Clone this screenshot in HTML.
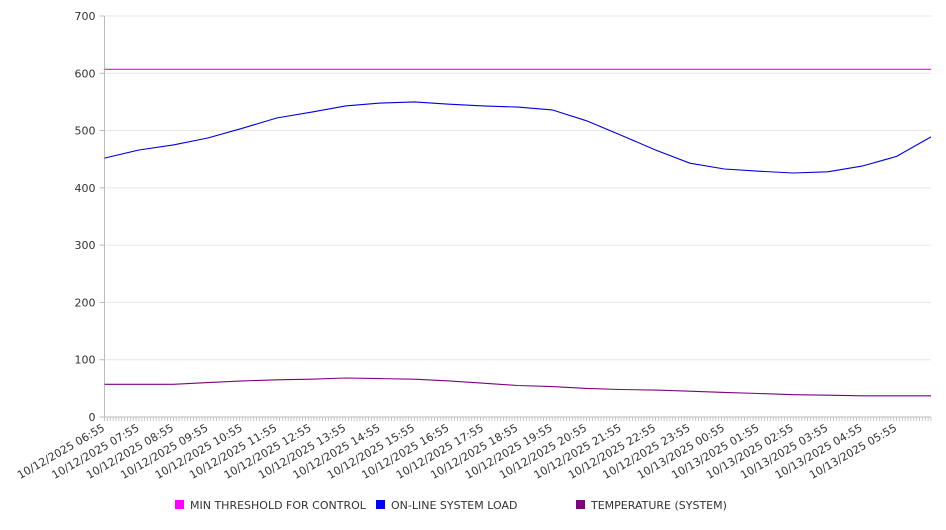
<!DOCTYPE html>
<html><head><meta charset="utf-8"><style>
body{margin:0;background:#fff;font-family:"DejaVu Sans","Liberation Sans",sans-serif}
svg text{font-family:"DejaVu Sans","Liberation Sans",sans-serif;font-size:11px;fill:#333}
</style></head><body>
<svg id="chart" width="946" height="526" viewBox="0 0 946 526" xmlns="http://www.w3.org/2000/svg">
<g id="grid"></g>
<g id="axes"></g>
<g id="series"></g>
<g id="legend">
<rect x="175" y="500" width="9" height="9" fill="#ff00ff"/>
<text x="190" y="509">MIN THRESHOLD FOR CONTROL</text>
<rect x="376" y="500" width="9" height="9" fill="#0000ff"/>
<text x="391" y="509">ON-LINE SYSTEM LOAD</text>
<rect x="576" y="500" width="9" height="9" fill="#800080"/>
<text x="591" y="509">TEMPERATURE (SYSTEM)</text>
</g>
</svg>
<script>
const xLabels=["10/12/2025 06:55","10/12/2025 07:55","10/12/2025 08:55","10/12/2025 09:55","10/12/2025 10:55","10/12/2025 11:55","10/12/2025 12:55","10/12/2025 13:55","10/12/2025 14:55","10/12/2025 15:55","10/12/2025 16:55","10/12/2025 17:55","10/12/2025 18:55","10/12/2025 19:55","10/12/2025 20:55","10/12/2025 21:55","10/12/2025 22:55","10/12/2025 23:55","10/13/2025 00:55","10/13/2025 01:55","10/13/2025 02:55","10/13/2025 03:55","10/13/2025 04:55","10/13/2025 05:55"];
const yTicks=[0,100,200,300,400,500,600,700];
const loadValues=[452,466,475,487,504,522,532,543,548,550,546,543,541,536,517,492,466,443,433,429,426,428,438,455,489];
const tempValues=[57,57,57,60,63,65,66,68,67,66,63,59,55,53,50,48,47,45,43,41,39,38,37,37,37];
const thresholdValues=[607,607];
const X0=104.5,X1=931,Y0=417,Y1=16,NH=24;
const xs=h=>X0+(X1-X0)*h/NH;
const ys=v=>Y0-(Y0-Y1)*v/700;
const NS="http://www.w3.org/2000/svg";
function mk(t,a,p){const e=document.createElementNS(NS,t);for(const k in a)e.setAttribute(k,a[k]);p.appendChild(e);return e;}
const grid=document.getElementById('grid'),axes=document.getElementById('axes'),series=document.getElementById('series');
yTicks.forEach(v=>{
 const l=mk('line',{x1:X0,x2:X1,y1:ys(v),y2:ys(v),stroke:'#e6e6e6'},grid);
 
 
 const tk=mk('line',{x1:X0-5,x2:X0,y1:ys(v),y2:ys(v),stroke:'#bbb'},axes);
 
 
 const t=mk('text',{x:X0-9,y:ys(v)+4,'text-anchor':'end'},axes);t.textContent=v;
 
 
});
const ya=mk('line',{x1:X0,x2:X0,y1:Y1,y2:Y0,stroke:'#bbb'},axes);


const xa=mk('line',{x1:X0,x2:X1,y1:Y0,y2:Y0,stroke:'#bbb'},axes);


for(let i=0;i<=NH*12;i++){const x=xs(i/12);
 const m=mk('line',{x1:x,x2:x,y1:Y0,y2:Y0+4,stroke:'#bbb','stroke-width':0.8},axes);
 
 }
xLabels.forEach((s,i)=>{const x=xs(i)+1,y=Y0+13;
 const t=mk('text',{x:x,y:y,'text-anchor':'end',transform:`rotate(-30 ${x} ${y})`},axes);t.textContent=s;
 
 });
function line(vals,col,name){const n=vals.length-1;
 const pts=vals.map((v,i)=>xs(i*NH/n).toFixed(1)+','+ys(v).toFixed(1)).join(' ');
 const p=mk('polyline',{points:pts,fill:'none',stroke:col,'stroke-width':1.1},series);
 
 }
line(thresholdValues,'#ff00ff','threshold-line');
line(loadValues,'#0000dd','load-line');
line(tempValues,'#800080','temperature-line');
</script>
</body></html>
